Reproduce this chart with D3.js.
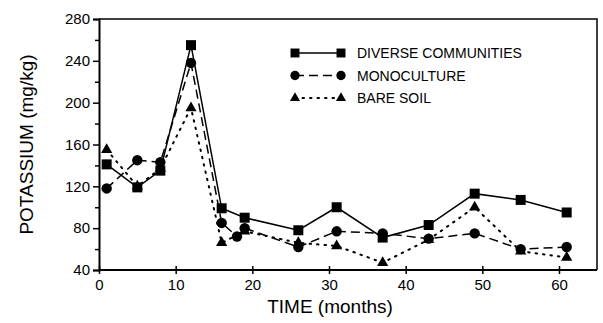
<!DOCTYPE html>
<html>
<head>
<meta charset="utf-8">
<script src="https://cdn.jsdelivr.net/npm/d3@7"></script>
<style>
  body { margin: 0; background: #fff; }
  text { font-family: "Liberation Sans", Arial, sans-serif; fill: #000; }
</style>
</head>
<body>
<div id="chart"></div>
<script>
// data
const diverseMonths = [1, 5, 8, 12, 16, 19, 26, 31, 37, 43, 49, 55, 61];
const diverse = [141, 119, 135, 255, 99, 90, 78, 100, 71, 83, 113, 107, 95];
const monoMonths = [1, 5, 8, 12, 16, 18, 19, 26, 31, 37, 43, 49, 55, 61];
const mono = [118, 145, 143, 238, 85, 72, 80, 62, 77, 75, 70, 75, 60, 62];
const bareMonths = [1, 5, 8, 12, 16, 19, 26, 31, 37, 43, 49, 55, 61];
const bare = [155, 120, 137, 195, 66, 77, 66, 63, 47, 69, 100, 58, 52];
const seriesNames = ["DIVERSE COMMUNITIES", "MONOCULTURE", "BARE SOIL"];
const xTicks = [0, 10, 20, 30, 40, 50, 60];
const yTicks = [40, 80, 120, 160, 200, 240, 280];

const W = 603, H = 323;
const margin = { top: 19, right: 6, bottom: 53, left: 99 };

const svg = d3.select("#chart").append("svg")
    .attr("width", W)
    .attr("height", H);

const x = d3.scaleLinear().domain([0, 60]).range([margin.left, 559]);
const y = d3.scaleLinear().domain([40, 280]).range([H - margin.bottom, margin.top]);

// frame top + right
svg.append("path")
    .attr("d", `M${margin.left},${margin.top}H${W - margin.right}V${y(40)}`)
    .attr("fill", "none")
    .attr("stroke", "#000")
    .attr("stroke-width", 1.5);

// y axis, minor ticks first
svg.append("g")
    .attr("transform", `translate(${margin.left},0)`)
    .call(d3.axisLeft(y).tickValues(d3.range(60, 280, 40)).tickSize(4).tickFormat(""))
    .call(g => g.select(".domain").remove())
    .selectAll("line").attr("stroke-width", 1.5);

const yAxis = svg.append("g")
    .attr("transform", `translate(${margin.left},0)`)
    .call(d3.axisLeft(y).tickValues(yTicks).tickSize(6).tickPadding(3));
yAxis.select(".domain").attr("stroke-width", 2);
yAxis.selectAll("line").attr("stroke-width", 1.5);
yAxis.selectAll("text")
    .attr("font-size", "15px")
    .style("font-family", "Liberation Sans, Arial, sans-serif");

const xAxis = svg.append("g")
    .attr("transform", `translate(0,${y(40)})`)
    .call(d3.axisBottom(x).tickValues(xTicks).tickSizeInner(4).tickSizeOuter(0).tickPadding(5));
xAxis.select(".domain")
    .attr("d", `M${margin.left},0H${W - margin.right}`)
    .attr("stroke-width", 2);
xAxis.selectAll("line").attr("y1", -4).attr("stroke-width", 1.5);
xAxis.selectAll("text")
    .attr("font-size", "15px")
    .style("font-family", "Liberation Sans, Arial, sans-serif");

// axis titles
svg.append("text")
    .attr("x", 330)
    .attr("y", 313)
    .attr("text-anchor", "middle")
    .attr("font-size", "19px")
    .text("TIME (months)");

svg.append("text")
    .attr("transform", `translate(33,${(margin.top + y(40)) / 2}) rotate(-90)`)
    .attr("text-anchor", "middle")
    .attr("font-size", "19px")
    .text("POTASSIUM (mg/kg)");

const line = d3.line().x(d => x(d[0])).y(d => y(d[1]));

const series = [
    { name: seriesNames[0], pts: d3.zip(diverseMonths, diverse), dash: null, sym: d3.symbolSquare, size: 100 },
    { name: seriesNames[1], pts: d3.zip(monoMonths, mono), dash: "9,5", sym: d3.symbolCircle, size: 85 },
    { name: seriesNames[2], pts: d3.zip(bareMonths, bare), dash: "1.5,6", sym: d3.symbolTriangle, size: 55 }
];

series.forEach(s => {
    svg.append("path")
        .datum(s.pts)
        .attr("d", line)
        .attr("fill", "none")
        .attr("stroke", "#000")
        .attr("stroke-width", s.dash && s.dash.startsWith("1.5") ? 2 : 1.5)
        .attr("stroke-dasharray", s.dash)
        .attr("stroke-linecap", s.dash && s.dash.startsWith("1.5") ? "round" : "butt");

    svg.append("g").selectAll("path")
        .data(s.pts)
        .enter().append("path")
        .attr("transform", d => `translate(${x(d[0])},${y(d[1])})`)
        .attr("d", d3.symbol().type(s.sym).size(s.size))
        .attr("fill", "#000");
});

// legend
const legend = svg.append("g").attr("transform", "translate(295,53)");
series.forEach((s, i) => {
    const g = legend.append("g").attr("transform", `translate(0,${i * 22.5})`);
    g.append("line")
        .attr("x1", 0).attr("x2", 46)
        .attr("stroke", "#000")
        .attr("stroke-width", s.dash && s.dash.startsWith("1.5") ? 2 : 1.5)
        .attr("stroke-dasharray", s.dash)
        .attr("stroke-linecap", s.dash && s.dash.startsWith("1.5") ? "round" : "butt");
    [0, 46].forEach(px => {
        g.append("path")
            .attr("transform", `translate(${px},0)`)
            .attr("d", d3.symbol().type(s.sym).size(s.size * 0.8))
            .attr("fill", "#000");
    });
    g.append("text")
        .attr("x", 62)
        .attr("y", 5)
        .attr("font-size", "14px")
        .text(s.name);
});
</script>
</body>
</html>
